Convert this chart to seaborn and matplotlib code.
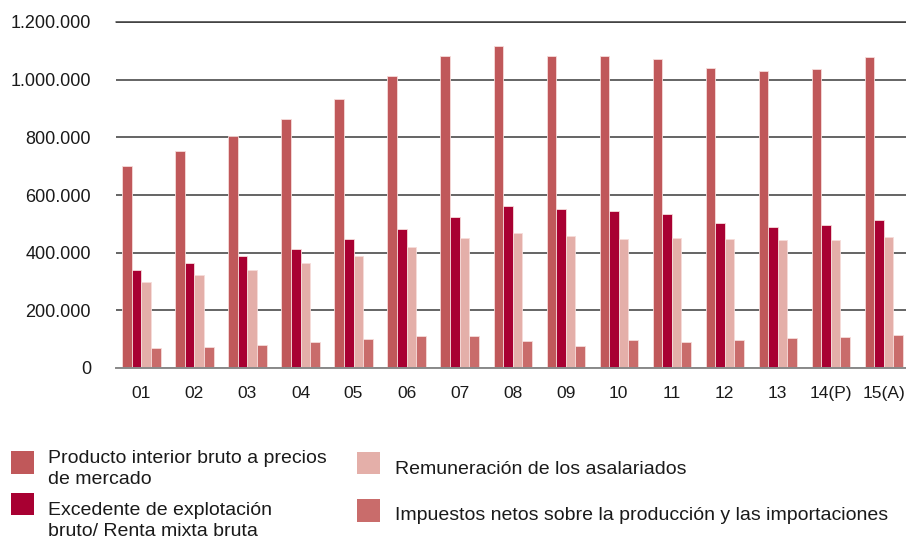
import matplotlib
matplotlib.use("Agg")
import matplotlib.pyplot as plt
from matplotlib.ticker import FuncFormatter, FixedLocator
from matplotlib.patches import Rectangle
from matplotlib.legend_handler import HandlerPatch
import seaborn as sns
import pandas as pd

years = ["01", "02", "03", "04", "05", "06", "07", "08", "09", "10",
         "11", "12", "13", "14(P)", "15(A)"]
pib = [700000, 751000, 806000, 862000, 932000, 1011000, 1082000, 1118000,
       1081000, 1082000, 1073000, 1041000, 1029000, 1038000, 1079000]
excedente = [340000, 363000, 388000, 413000, 446000, 482000, 524000, 562000,
             551000, 543000, 534000, 502000, 488000, 495000, 512000]
remuneracion = [297000, 321000, 341000, 364000, 388000, 420000, 452000, 468000,
                458000, 448000, 451000, 448000, 443000, 443000, 454000]
impuestos = [68000, 72000, 80000, 90000, 102000, 112000, 111000, 92000,
             77000, 96000, 91000, 96000, 103000, 107000, 115000]

series_names = ["Producto interior bruto a precios de mercado",
                "Excedente de explotación bruto/ Renta mixta bruta",
                "Remuneración de los asalariados",
                "Impuestos netos sobre la producción y las importaciones"]
legend_first_lines = ["Producto interior bruto a precios",
                      "Excedente de explotación",
                      "Remuneración de los asalariados",
                      "Impuestos netos sobre la producción y las importaciones"]
legend_second_lines = ["de mercado", "bruto/ Renta mixta bruta", "", ""]
colors = ["#C0585A", "#A80032", "#E4AFA9", "#C96C6B"]
y_ticks = [0, 200000, 400000, 600000, 800000, 1000000, 1200000]

rows = []
for name, vals in zip(series_names, [pib, excedente, remuneracion, impuestos]):
    for yr, v in zip(years, vals):
        rows.append({"year": yr, "value": v, "series": name})
df = pd.DataFrame(rows)

sns.set_theme(style="white")
plt.rcParams["font.family"] = ["Liberation Sans", "DejaVu Sans"]

W, H = 906, 538
fig = plt.figure(figsize=(W / 100, H / 100), dpi=100)
ax = fig.add_axes([116 / W, 1 - 368 / H, 1 - 116 / W, (368 - 22) / H])

sns.barplot(data=df, x="year", y="value", hue="series", order=years,
            hue_order=series_names, palette=colors, saturation=1,
            width=0.72, gap=0, edgecolor="#F6DCDA", linewidth=0.6, ax=ax)

handles, _ = ax.get_legend_handles_labels()
if ax.legend_ is not None:
    ax.legend_.remove()

ax.set_xlim(-0.48, 14.42)
ax.set_ylim(0, 1200000)
ax.yaxis.set_major_locator(FixedLocator(y_ticks))
ax.yaxis.set_major_formatter(FuncFormatter(lambda v, p: f"{int(v):,}".replace(",", ".")))
ax.set_axisbelow(True)
ax.grid(axis="y", color="#3a3a3a", linewidth=1.1)
ax.grid(axis="x", visible=False)
for s in ["top", "right", "left"]:
    ax.spines[s].set_visible(False)
ax.spines["bottom"].set_color("#8a8a8a")
ax.spines["bottom"].set_linewidth(1.4)
ax.set_xlabel("")
ax.set_ylabel("")
ax.tick_params(axis="y", length=0, pad=18, labelsize=13, labelcolor="#1a1a1a")
ax.tick_params(axis="x", length=0, pad=13, labelsize=12.5, labelcolor="#1a1a1a")
ax.axhline(1200000, color="#3a3a3a", linewidth=1.1, clip_on=False)

# legend: one entry per box, positioned like the reference
FS = 14  # points
PX = 0.72  # points per pixel
# (handle left px, text baseline px, handle bottom offset below baseline px, text pad)
entries = [(11, 462.7, 11.0, 0.72),
           (11, 515.0, 0.3, 0.72),
           (357, 473.6, 0.7, 0.77),
           (357, 520.2, 1.8, 0.77)]
handle_px = 22.7


def make_patch_func(offset_px):
    def patch_func(legend, orig_handle, xdescent, ydescent, width, height, fontsize):
        return Rectangle((-xdescent, -offset_px * PX), width, handle_px * PX)
    return patch_func


above_baseline = 17.8  # px of legend box above the text baseline
for i, (hx, base, off, pad) in enumerate(entries):
    leg = fig.legend([handles[i]], [legend_first_lines[i]],
                     loc="upper left",
                     bbox_to_anchor=(hx / W, 1 - (base - above_baseline) / H),
                     frameon=False, prop={"size": FS}, borderpad=0, borderaxespad=0,
                     handlelength=handle_px * PX / FS, handleheight=1.417,
                     handletextpad=pad, labelcolor="#1a1a1a",
                     handler_map={handles[i]: HandlerPatch(patch_func=make_patch_func(off))})
    for p in leg.get_patches():
        p.set_edgecolor("none")

fig.text(47.7 / W, 1 - 484.3 / H, legend_second_lines[0], fontsize=FS,
         color="#1a1a1a", va="baseline", ha="left")
fig.text(47.7 / W, 1 - 535.5 / H, legend_second_lines[1], fontsize=FS,
         color="#1a1a1a", va="baseline", ha="left")

fig.savefig("out.png", dpi=100)
